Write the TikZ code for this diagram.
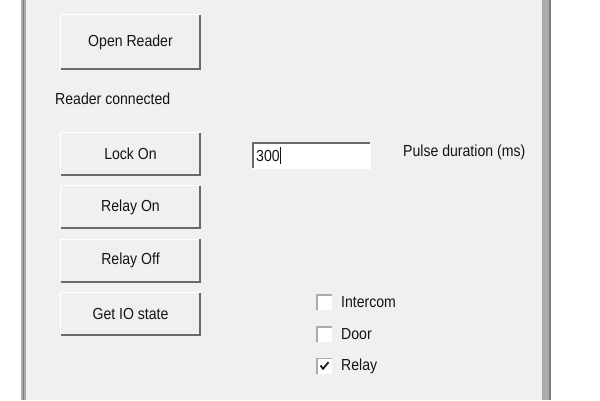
\documentclass[tikz,border=0pt]{standalone}
\usepackage{fontspec}
\setmainfont{Liberation Sans}[FakeStretch=0.88]
\definecolor{panel}{HTML}{F0F0F0}
\definecolor{shadow}{HTML}{6A6A6A}
\definecolor{frameg}{HTML}{ABABAB}
\definecolor{framed}{HTML}{7E7E7E}
\definecolor{txt}{HTML}{141414}
\tikzset{
  btn/.style={fill=panel, draw=none, minimum width=139pt, inner sep=0pt, text=txt, font=\fontsize{16}{19}\selectfont},
  lbl/.style={inner sep=0pt, text=txt, font=\fontsize{16}{19}\selectfont},
  chk/.style={fill=white, draw=none, minimum size=15pt, inner sep=0pt},
  hi/.style={draw=white, line width=1.2pt},
  lo/.style={draw=shadow, line width=1.8pt},
}
\begin{document}
\begin{tikzpicture}[x=1pt,y=-1pt]
\useasboundingbox (0,0) rectangle (600,400);
\fill[white] (0,0) rectangle (600,400);
% panel
\fill[panel] (26,0) rectangle (542,400);
\fill[frameg] (21,0) rectangle (26,400);
\fill[framed] (22.5,0) rectangle (24,400);
\fill[frameg] (542,0) rectangle (551,400);
\fill[framed] (549,0) rectangle (551,400);
% buttons
\node[btn, minimum height=54pt] (openb) at (130.5,42) {Open Reader};
\node[btn, minimum height=42pt] (lockb) at (130.5,154) {Lock On};
\node[btn, minimum height=42pt] (relayonb) at (130.5,207) {Relay On};
\node[btn, minimum height=42pt] (relayoffb) at (130.5,260.5) {Relay Off};
\node[btn, minimum height=42pt] (getiob) at (130.5,314) {Get IO state};
\foreach \b in {openb,lockb,relayonb,relayoffb,getiob}{
  \draw[hi] (\b.south west) -- (\b.north west) -- (\b.north east);
  \draw[lo] (\b.south west) -- (\b.south east) -- (\b.north east);
}
% labels
\node[lbl, anchor=west] (conn) at (55,99) {Reader connected};
\node[lbl, anchor=west] (pulse) at (403,152) {Pulse duration (ms)};
% text box
\node[fill=white, draw=none, minimum width=117pt, minimum height=25pt, inner sep=0pt] (tbox) at (311.5,155.5) {};
\draw[draw=shadow, line width=1.5pt] (tbox.south west) -- (tbox.north west) -- (tbox.north east);
\draw[draw=white, line width=1pt] (tbox.south west) -- (tbox.south east) -- (tbox.north east);
\node[lbl, anchor=west] (tval) at (256,156) {300};
\coordinate (curtop) at ([xshift=1pt]tval.east |- tbox.north);
\coordinate (curbot) at ([xshift=1pt]tval.east |- tbox.south);
\draw[txt, line width=1pt] ([yshift=-4pt]curtop) -- ([yshift=4pt]curbot);
% checkboxes
\node[chk] (cb1) at (324.5,302.5) {};
\node[chk] (cb2) at (324.5,334.5) {};
\node[chk] (cb3) at (324.5,366) {};
\foreach \c in {cb1,cb2,cb3}{
  \draw[draw=frameg, line width=1.5pt] (\c.south west) -- (\c.north west) -- (\c.north east);
}
\draw[txt, line width=1.7pt] ([shift={(-4,-0.5)}]cb3.center) -- ([shift={(-1.5,2.8)}]cb3.center) -- ([shift={(4,-3.8)}]cb3.center);
\node[lbl, anchor=west] (l1) at (341,302) {Intercom};
\node[lbl, anchor=west] (l2) at (341,334) {Door};
\node[lbl, anchor=west] (l3) at (341,366) {Relay};
\end{tikzpicture}
\end{document}
